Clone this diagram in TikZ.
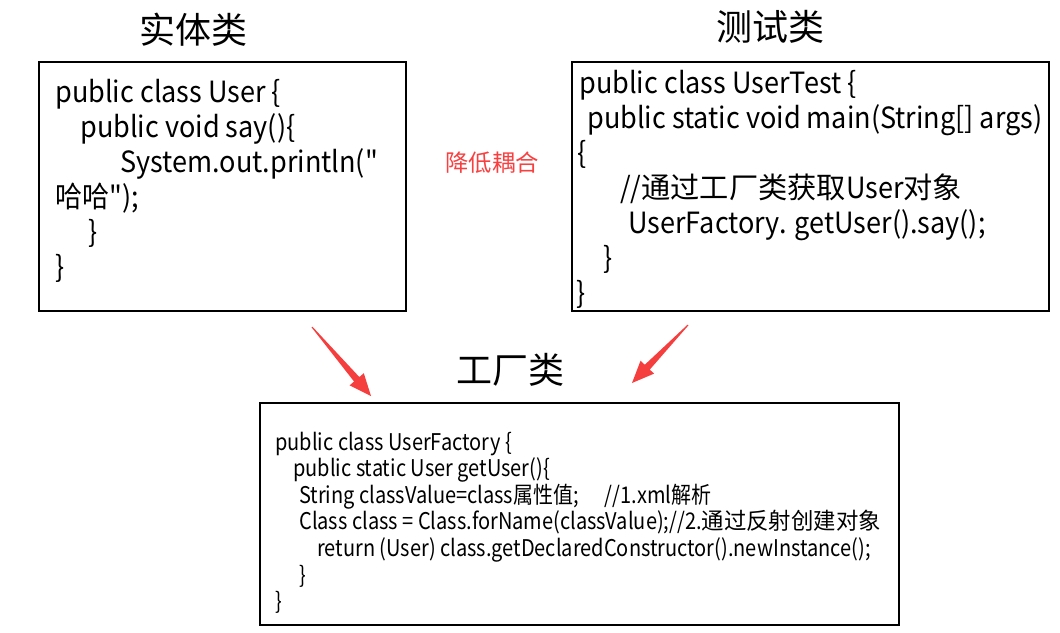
\documentclass[tikz,border=0pt]{standalone}
\usepackage{fontspec}
\newfontfamily\jh{Noto Sans CJK SC}
\setmainfont{Noto Sans CJK SC}
\usepackage{graphicx}
\usetikzlibrary{calc}
\definecolor{arrowred}{RGB}{245,62,62}
\definecolor{labelred}{RGB}{248,64,64}
\newcommand{\vsA}[1]{\scalebox{1}[1.08]{#1}}
\newcommand{\vsB}[1]{\scalebox{1}[1.15]{#1}}
\newcommand{\hx}[1]{\scalebox{1.08}[1]{#1}}
\tikzset{
  codebox/.style={draw=black, line width=1.5pt, inner sep=0pt, fill=none},
  title/.style={font=\jh\fontsize{27}{30}\selectfont, inner sep=0pt},
  codeA/.style={anchor=base west, inner sep=0pt, font=\jh\fontsize{20.3}{22}\selectfont},
  codeB/.style={anchor=base west, inner sep=0pt, font=\jh\fontsize{15}{17}\selectfont},
  note/.style={font=\jh\fontsize{17.5}{19}\selectfont, text=labelred, inner sep=0pt},
}
\newcommand{\tarrow}[2]{%
  \coordinate (hb) at ($(#2)!16.5pt!(#1)$);
  \fill[arrowred] ($(#1)!0.4pt!90:(#2)$) -- ($(hb)!2.6pt!90:(#2)$) -- ($(hb)!7pt!90:(#2)$) -- (#2)
     -- ($(hb)!7pt!-90:(#2)$) -- ($(hb)!2.6pt!-90:(#2)$) -- ($(#1)!0.4pt!-90:(#2)$) -- cycle;}
\begin{document}
\begin{tikzpicture}[x=0.75pt,y=-0.75pt]
\useasboundingbox (0,0) rectangle (1060,632);
% boxes
\node[codebox, minimum width=275.25pt, minimum height=186.75pt] (entity) at (222.5,186.5) {};
\node[codebox, minimum width=357.75pt, minimum height=186.75pt] (test) at (810.5,186.5) {};
\node[codebox, minimum width=479.25pt, minimum height=166.5pt] (factory) at (579.5,514) {};
% titles
\node[title] (t1) at (193,30) {实体类};
\node[title] (t2) at (770,27) {测试类};
\node[title] (t3) at (510,370) {工厂类};
\node[note] (n1) at (492,163) {降低耦合};
% entity code
\node[codeA] (e1) at (55,102) {\vsA{public class User \{}};
\node[codeA] (e2) at (80,137) {\vsA{public void say()\{}};
\node[codeA] (e3) at (120,172) {\vsA{System.out.println("}};
\node[codeA] (e4) at (55,207) {\vsA{哈哈");}};
\node[codeA] (e5) at (88,242) {\vsA{\}}};
\node[codeA] (e6) at (55,277) {\vsA{\}}};
% test code
\node[codeA] (s1) at (579,93) {\vsA{public class UserTest \{}};
\node[codeA] (s2) at (587,128) {\vsA{public static void main(String[] args)}};
\node[codeA] (s3) at (577,163) {\vsA{\{}};
\node[codeA] (s4) at (620,198) {\vsA{//\hx{通过工厂类获取}User\hx{对象}}};
\node[codeA] (s5) at (628,233) {\vsA{UserFactory. getUser().say();}};
\node[codeA] (s6) at (603,268) {\vsA{\}}};
\node[codeA] (s7) at (576,303) {\vsA{\}}};
% factory code
\node[codeB] (f1) at (275,450) {\vsB{public class UserFactory \{}};
\node[codeB] (f2) at (293,476) {\vsB{public static User getUser()\{}};
\node[codeB] (f3) at (299,503) {\vsB{String classValue=class属性值;\hspace{1.3em}//1.xml解析}};
\node[codeB] (f4) at (299,529) {\vsB{Class class = Class.forName(classValue);//2.\scalebox{1.12}[1]{通过反射创建对象}}};
\node[codeB] (f5) at (317,556) {\vsB{return (User) class.getDeclaredConstructor().newInstance();}};
\node[codeB] (f6) at (299,583) {\vsB{\}}};
\node[codeB] (f7) at (275,609) {\vsB{\}}};
% arrows
\coordinate (a1s) at (312,327);
\coordinate (a1e) at (371,396);
\coordinate (a2s) at (688,325);
\coordinate (a2e) at (632,383);
\tarrow{a1s}{a1e}
\tarrow{a2s}{a2e}
\end{tikzpicture}
\end{document}
